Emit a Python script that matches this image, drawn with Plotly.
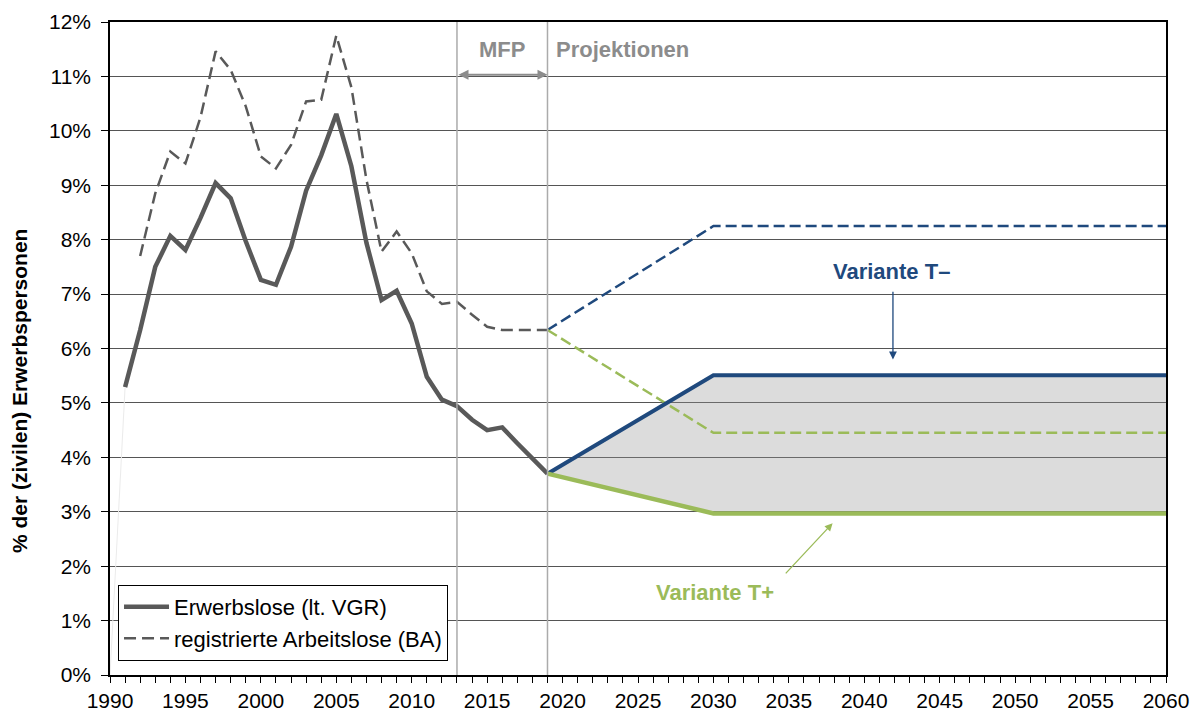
import plotly.graph_objects as go

# ---- data ----
hist_years = list(range(1991, 2020))
vgr = [5.29, 6.34, 7.50, 8.07, 7.81, 8.40, 9.04, 8.76, 7.97, 7.26, 7.17, 7.87,
       8.90, 9.55, 10.31, 9.35, 7.94, 6.89, 7.06, 6.46, 5.48, 5.06, 4.94, 4.69,
       4.50, 4.55, 4.26, 3.98, 3.70]
ba_years = list(range(1992, 2020))
ba = [7.70, 8.85, 9.62, 9.40, 10.25, 11.46, 11.12, 10.45, 9.53, 9.31, 9.74,
      10.54, 10.57, 11.75, 10.80, 9.10, 7.78, 8.15, 7.75, 7.05, 6.82, 6.86,
      6.62, 6.40, 6.34, 6.34, 6.34, 6.34]
artifact_years = [1990, 1991]
artifact_vals = [0.0, 5.29]

proj_years = [2019, 2030, 2060]
t_minus_solid = [3.70, 5.51, 5.51]
t_plus_solid = [3.70, 2.97, 2.97]
t_minus_dash = [6.34, 8.25, 8.25]
t_plus_dash = [6.34, 4.45, 4.45]

period_markers = [2013, 2019]

GRAY = "#595959"
BLUE = "#1F497D"
GREEN = "#9BBB59"
FONT = "Liberation Sans, Arial, sans-serif"

fig = go.Figure()

# history (legend entries first)
fig.add_trace(go.Scatter(x=hist_years, y=vgr, mode="lines",
                         name="Erwerbslose (lt. VGR)", legendgroup="a",
                         line=dict(color=GRAY, width=4.5)))
fig.add_trace(go.Scatter(x=ba_years, y=ba, mode="lines",
                         name="registrierte Arbeitslose (BA)", legendgroup="b",
                         line=dict(color=GRAY, width=2.5, dash="12px,6px")))

# faint connector artifact
fig.add_trace(go.Scatter(x=artifact_years, y=artifact_vals, mode="lines",
                         line=dict(color="#EBEBEB", width=1), showlegend=False,
                         hoverinfo="skip"))

# shaded corridor
fig.add_trace(go.Scatter(x=proj_years, y=t_plus_solid, mode="lines",
                         line=dict(width=0), showlegend=False, hoverinfo="skip"))
fig.add_trace(go.Scatter(x=proj_years, y=t_minus_solid, mode="lines",
                         line=dict(width=0), fill="tonexty",
                         fillcolor="rgba(150,150,150,0.33)", showlegend=False,
                         hoverinfo="skip"))

# projection dashed
fig.add_trace(go.Scatter(x=proj_years, y=t_minus_dash, mode="lines",
                         line=dict(color=BLUE, width=2.5, dash="11px,5px"),
                         showlegend=False))
fig.add_trace(go.Scatter(x=proj_years, y=t_plus_dash, mode="lines",
                         line=dict(color=GREEN, width=2.5, dash="11px,5px"),
                         showlegend=False))
# projection solid
fig.add_trace(go.Scatter(x=proj_years, y=t_minus_solid, mode="lines",
                         line=dict(color=BLUE, width=4), showlegend=False))
fig.add_trace(go.Scatter(x=proj_years, y=t_plus_solid, mode="lines",
                         line=dict(color=GREEN, width=4.5), showlegend=False))

for xm in period_markers:
    fig.add_shape(type="line", xref="x", yref="paper", x0=xm, x1=xm, y0=0, y1=1,
                  line=dict(color="#ABABAB", width=1.5), layer="above")

annotations = [
    dict(x=2016, y=11.5, xref="x", yref="y", text="<b>MFP</b>", showarrow=False,
         font=dict(size=22, color="#8C8C8C", family=FONT)),
    dict(x=2019.4, y=11.5, xref="x", yref="y", text="<b>Projektionen</b>",
         showarrow=False, xanchor="left",
         font=dict(size=22, color="#8C8C8C", family=FONT)),
    dict(x=2019, y=11.03, ax=2013, ay=11.03, xref="x", yref="y", axref="x",
         ayref="y", text="", showarrow=True, arrowside="end+start", arrowhead=2,
         arrowsize=1, arrowwidth=2, arrowcolor="#8C8C8C", standoff=0, startstandoff=0),
    dict(x=2041.8, y=7.41, xref="x", yref="y", text="<b>Variante T–</b>",
         showarrow=False, font=dict(size=22, color=BLUE, family=FONT)),
    dict(x=2041.9, y=5.8, ax=2041.9, ay=7.07, xref="x", yref="y", axref="x",
         ayref="y", text="", showarrow=True, arrowhead=2, arrowsize=1.2,
         arrowwidth=1.3, arrowcolor=BLUE),
    dict(x=2030.1, y=1.51, xref="x", yref="y", text="<b>Variante T+</b>",
         showarrow=False, font=dict(size=22, color=GREEN, family=FONT)),
    dict(x=2037.9, y=2.79, ax=2034.7, ay=1.84, xref="x", yref="y", axref="x",
         ayref="y", text="", showarrow=True, arrowhead=2, arrowsize=1.2,
         arrowwidth=1.3, arrowcolor=GREEN),
    dict(x=-0.0852, y=0.435, xref="paper", yref="paper",
         text="<b>% der (zivilen) Erwerbspersonen</b>", textangle=-90,
         showarrow=False, xanchor="center", yanchor="middle",
         font=dict(size=21, color="black", family=FONT)),
]

fig.update_layout(
    width=1191, height=705,
    margin=dict(l=102, r=33, t=14, b=38),
    paper_bgcolor="white", plot_bgcolor="white",
    font=dict(family=FONT, size=21, color="black"),
    annotations=annotations,
    legend=dict(x=0.0076, y=0.138, xanchor="left", yanchor="top",
                bgcolor="white", bordercolor="black", borderwidth=1,
                font=dict(size=22, family=FONT, color="black"),
                traceorder="normal", tracegroupgap=4, itemwidth=45),
    xaxis=dict(range=[1990, 2060], tickmode="linear", tick0=1990, dtick=5,
               automargin=False,
               showgrid=False, zeroline=False, showline=True, linecolor="black",
               linewidth=1.5, mirror=True, ticks="outside", ticklen=6,
               tickcolor="black",
               minor=dict(ticks="outside", dtick=1, ticklen=6, tickcolor="black",
                          showgrid=False),
               tickfont=dict(size=21, family=FONT, color="black")),
    yaxis=dict(range=[0, 12], tickmode="linear", tick0=0, dtick=1,
               automargin=False, ticklabelstandoff=6,
               ticksuffix="%", showgrid=True, gridcolor="#555555", gridwidth=1,
               zeroline=False, showline=True, linecolor="black", linewidth=1.5,
               mirror=True, ticks="outside", ticklen=7, tickcolor="black",
               tickfont=dict(size=21, family=FONT, color="black")),
)

fig.write_html("out.html")
